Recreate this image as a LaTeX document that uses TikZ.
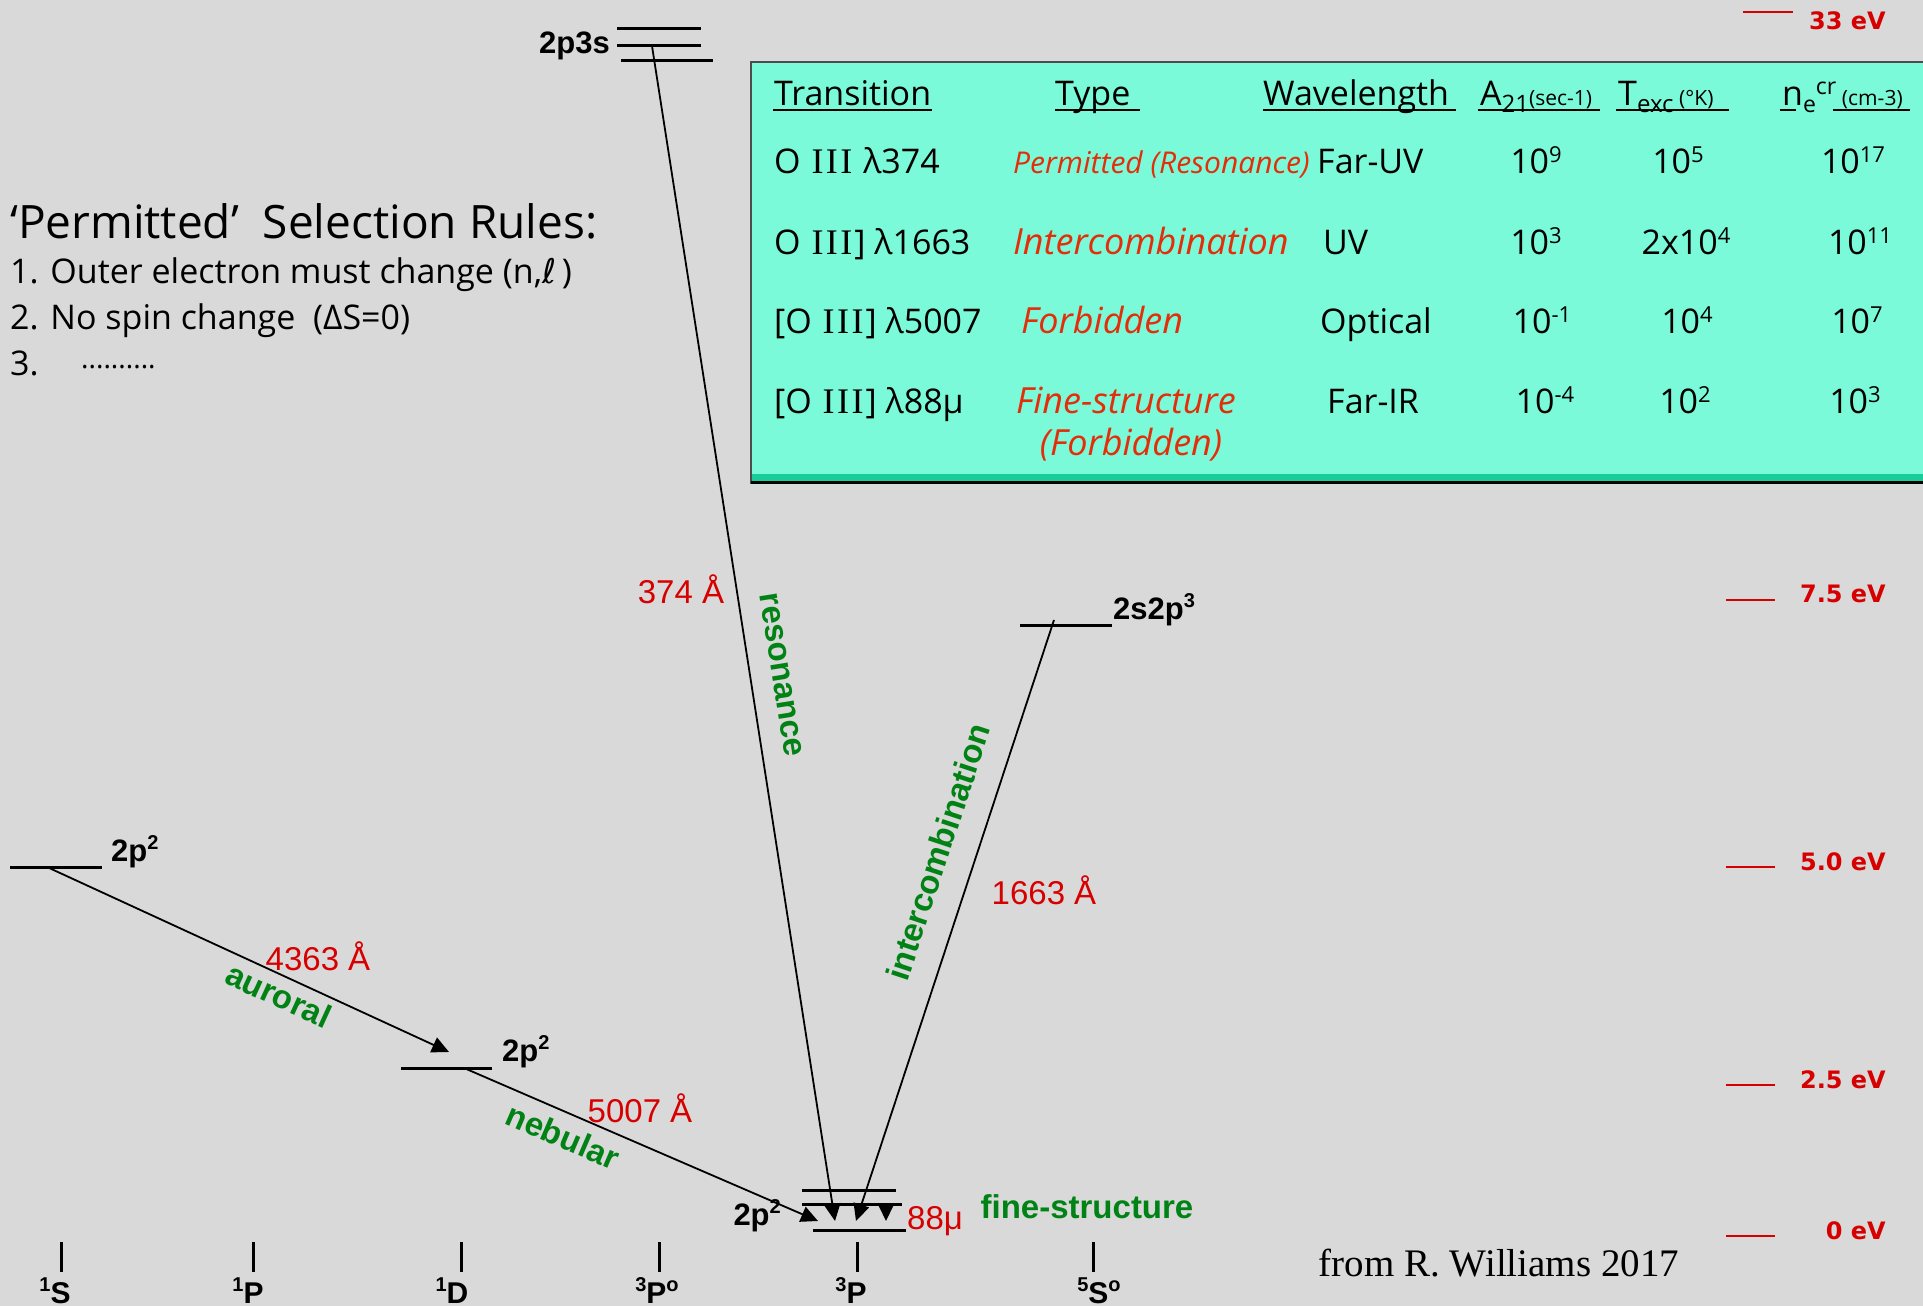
\documentclass[tikz,border=0pt]{standalone}
\usepackage{fontspec}
\usepackage{graphicx}
\setmainfont{Open Sans}
\newfontfamily\arialf{Liberation Sans}
\newfontfamily\verdf{DejaVu Sans}
\newfontfamily\timesf{Liberation Serif}
\usetikzlibrary{arrows.meta}
\definecolor{bg}{RGB}{217,217,217}
\definecolor{aqua}{RGB}{122,250,216}
\definecolor{stripe}{RGB}{25,205,155}
\definecolor{grn}{RGB}{0,130,20}
\definecolor{rd}{RGB}{215,0,0}
\definecolor{trd}{RGB}{228,45,10}
\newcommand\fsz[1]{\fontsize{#1}{#1}\selectfont}
\newcommand\lsup[1]{\raisebox{12pt}{\fsz{20}#1}}
\newcommand\tsup[1]{\raisebox{11pt}{\fsz{22}#1}}
\newcommand\triI{{\timesf\fsz{36}\kern2pt I\kern2.5pt I\kern2.5pt I\kern2pt}}
\begin{document}
\begin{tikzpicture}[x=1pt,y=-1pt,
  lvl/.style={line width=3pt},
  transarr/.style={line width=1.8pt, -{Triangle[length=17pt,width=16pt]}},
  tickmark/.style={line width=3pt},
  lvlab/.style={font=\arialf\bfseries\fsz{31}, inner sep=0pt},
  termlab/.style={font=\arialf\bfseries\fsz{30}, inner sep=0pt},
  wavel/.style={font=\arialf\fsz{33}, text=rd, inner sep=0pt},
  kind/.style={font=\arialf\bfseries\fsz{33}, text=grn, inner sep=0pt},
  evlab/.style={font=\verdf\bfseries\fsz{24}, text=rd, anchor=east, inner sep=0pt},
  evmark/.style={draw=rd, line width=2pt},
  hd/.style={font=\fsz{34}, anchor=base west, inner sep=0pt},
  celltxt/.style={font=\fsz{34}, anchor=base west, inner sep=0pt},
  numc/.style={font=\fsz{34}, anchor=base, inner sep=0pt},
  ityp/.style={font=\itshape\fsz{36}, text=trd, anchor=base west, inner sep=0pt},
  rulestxt/.style={font=\fsz{34}, anchor=west, inner sep=0pt},
  uline/.style={line width=1.6pt}
]
\fill[bg] (0,0) rectangle (1923,1306);
\useasboundingbox (0,0) rectangle (1923,1306);

% ---------- table box ----------
\fill[aqua] (751,62) rectangle (1930,484);
\fill[stripe] (751,474) rectangle (1930,481);
\draw[line width=2pt, draw=black!70] (751,484) -- (751,62) -- (1930,62);
\draw[line width=3pt] (751,482.5) -- (1930,482.5);

% header
\node[hd] (hTr) at (774,106) {Transition};
\node[hd] (hTy) at (1055,106) {Type};
\node[hd] (hWl) at (1263,106) {Wavelength};
\node[hd] (hA) at (1480,106) {A\raisebox{-6pt}{\fsz{24}21}{\fsz{21}(sec-1)}};
\node[hd] (hT) at (1618,106) {T\raisebox{-6pt}{\fsz{24}exc}\,{\fsz{21}(°K)}};
\node[hd] (hN) at (1782,106) {n\raisebox{-7pt}{\fsz{23}e}\raisebox{11pt}{\fsz{23}cr}\,{\fsz{21}(cm-3)}};
\draw[uline] (773,110) -- (932,110);
\draw[uline] (1055,110) -- (1140,110);
\draw[uline] (1263,110) -- (1456,110);
\draw[uline] (1478,110) -- (1600,110);
\draw[uline] (1616,110) -- (1729,110);
\draw[uline] (1780,110) -- (1796,110);
\draw[uline] (1833,110) -- (1910,110);

% row 1
\node[celltxt] (r1a) at (774,173) {O \triI\ λ374};
\node[ityp, font=\itshape\fsz{30}] (r1b) at (1013,173) {Permitted (Resonance)};
\node[celltxt] (r1c) at (1317,173) {Far-UV};
\node[numc] (r1d) at (1536,173) {10\tsup{9}};
\node[numc] (r1e) at (1678,173) {10\tsup{5}};
\node[numc] (r1f) at (1853,173) {10\tsup{17}};
% row 2
\node[celltxt] (r2a) at (774,254) {O \triI] λ1663};
\node[ityp] (r2b) at (1013,254) {Intercombination};
\node[celltxt] (r2c) at (1323,254) {UV};
\node[numc] (r2d) at (1536,254) {10\tsup{3}};
\node[numc] (r2e) at (1686,254) {2x10\tsup{4}};
\node[numc] (r2f) at (1860,254) {10\tsup{11}};
% row 3
\node[celltxt] (r3a) at (774,333) {[O \triI] λ5007};
\node[ityp] (r3b) at (1021,333) {Forbidden};
\node[celltxt] (r3c) at (1320,333) {Optical};
\node[numc] (r3d) at (1542,333) {10\tsup{-1}};
\node[numc] (r3e) at (1687,333) {10\tsup{4}};
\node[numc] (r3f) at (1857,333) {10\tsup{7}};
% row 4
\node[celltxt] (r4a) at (774,413) {[O \triI] λ88μ};
\node[ityp] (r4b) at (1016,413) {Fine-structure};
\node[ityp, anchor=base] (r4g) at (1131,455) {(Forbidden)};
\node[celltxt] (r4c) at (1327,413) {Far-IR};
\node[numc] (r4d) at (1545,413) {10\tsup{-4}};
\node[numc] (r4e) at (1685,413) {10\tsup{2}};
\node[numc] (r4f) at (1855,413) {10\tsup{3}};

% ---------- selection rules ----------
\node[rulestxt, font=\fsz{46}] (sr0) at (10,221) {‘Permitted’\ \ Selection Rules:};
\node[rulestxt] (sr1) at (10,275) {1. Outer electron must change (n,{\verdf ℓ}\,)};
\node[rulestxt] (sr2) at (10,321) {2. No spin change\ \ (ΔS=0)};
\node[rulestxt] (sr3) at (10,363) {3.};
\node[rulestxt, font=\fsz{28}] (sr3d) at (81,367) {..........};

% ---------- levels ----------
\coordinate (s1a) at (617,29);  \coordinate (s1b) at (701,29);
\coordinate (s2a) at (617,46);  \coordinate (s2b) at (701,46);
\coordinate (s3a) at (621,61);  \coordinate (s3b) at (713,61);
\draw[lvl] (s1a) -- (s1b);
\draw[lvl] (s2a) -- (s2b);
\draw[lvl] (s3a) -- (s3b);
\node[lvlab, anchor=east] (l2p3s) at (610,46) {2p3s};

\coordinate (uSa) at (10,867);  \coordinate (uSb) at (102,867);
\draw[lvl] (uSa) -- (uSb);
\node[lvlab, anchor=west] (l1S) at (111,852) {2p\lsup{2}};

\coordinate (uDa) at (401,1068); \coordinate (uDb) at (492,1068);
\draw[lvl] (uDa) -- (uDb);
\node[lvlab, anchor=west] (l1D) at (502,1052) {2p\lsup{2}};

\coordinate (g1a) at (802,1190); \coordinate (g1b) at (896,1190);
\coordinate (g2a) at (802,1204); \coordinate (g2b) at (902,1204);
\coordinate (g3a) at (813,1230); \coordinate (g3b) at (906,1230);
\draw[lvl] (g1a) -- (g1b);
\draw[lvl] (g2a) -- (g2b);
\draw[lvl] (g3a) -- (g3b);
\node[lvlab, anchor=east] (l3P) at (781,1216) {2p\lsup{2}};
\node[wavel, anchor=west] (w88) at (907,1221) {88μ};

\coordinate (qa) at (1020,625); \coordinate (qb) at (1112,625);
\draw[lvl] (qa) -- (qb);
\node[lvlab, anchor=west] (l5S) at (1113,610) {2s2p\lsup{3}};

% ---------- transitions ----------
\coordinate (resS) at (652,46);   \coordinate (resE) at (835,1221);
\coordinate (intS) at (1054,620); \coordinate (intE) at (856,1221);
\coordinate (aurS) at (47,867);   \coordinate (aurE) at (449,1052);
\coordinate (nebS) at (464,1068); \coordinate (nebE) at (818,1221);
\coordinate (finS) at (886,1204); \coordinate (finE) at (886,1221);
\draw[transarr] (resS) -- (resE);
\draw[transarr] (intS) -- (intE);
\draw[transarr] (aurS) -- (aurE);
\draw[transarr] (nebS) -- (nebE);
\draw[transarr] (finS) -- (finE);

\node[wavel] (w374) at (681,589) {374 Å};
\node[kind, rotate=-81.1] (kres) at (781,675) {resonance};
\node[kind, rotate=71.7] (kint) at (938,852) {intercombination};
\node[wavel] (w1663) at (1044,890) {1663 Å};
\node[wavel] (w4363) at (318,956) {4363 Å};
\node[kind, rotate=-24.6] (kaur) at (279,995) {auroral};
\node[wavel] (w5007) at (640,1108) {5007 Å};
\node[kind, rotate=-23.3] (kneb) at (563,1136) {nebular};
\node[kind] (kfin) at (1087,1207) {fine-structure};

% ---------- term ticks ----------
\foreach \tx/\nm in {61/t1,253/t2,461/t3,659/t4,857/t5,1093/t6}{
  \coordinate (\nm a) at (\tx,1242); \coordinate (\nm b) at (\tx,1272);
  \draw[tickmark] (\nm a) -- (\nm b);
}
\node[termlab] (n1S) at (55,1291) {\lsup{1}S};
\node[termlab] (n1P) at (248,1291) {\lsup{1}P};
\node[termlab] (n1D) at (452,1291) {\lsup{1}D};
\node[termlab] (n3Po) at (657,1291) {\lsup{3}P\lsup{o}};
\node[termlab] (n3P) at (851,1291) {\lsup{3}P};
\node[termlab] (n5So) at (1099,1291) {\lsup{5}S\lsup{o}};

% ---------- energy scale ----------
\coordinate (e33a) at (1743,12);  \coordinate (e33b) at (1793,12);
\coordinate (e75a) at (1726,600); \coordinate (e75b) at (1775,600);
\coordinate (e50a) at (1726,867); \coordinate (e50b) at (1775,867);
\coordinate (e25a) at (1726,1085); \coordinate (e25b) at (1775,1085);
\coordinate (e00a) at (1726,1236); \coordinate (e00b) at (1775,1236);
\draw[evmark] (e33a) -- (e33b);
\draw[evmark] (e75a) -- (e75b);
\draw[evmark] (e50a) -- (e50b);
\draw[evmark] (e25a) -- (e25b);
\draw[evmark] (e00a) -- (e00b);
\node[evlab] (v33) at (1886,21) {33 eV};
\node[evlab] (v75) at (1886,594) {7.5 eV};
\node[evlab] (v50) at (1886,862) {5.0 eV};
\node[evlab] (v25) at (1886,1080) {2.5 eV};
\node[evlab] (v00) at (1886,1231) {0 eV};

% ---------- credit ----------
\node[font=\timesf\fsz{39}, inner sep=0pt] (cred) at (1499,1263) {from R. Williams 2017};
\end{tikzpicture}
\end{document}
